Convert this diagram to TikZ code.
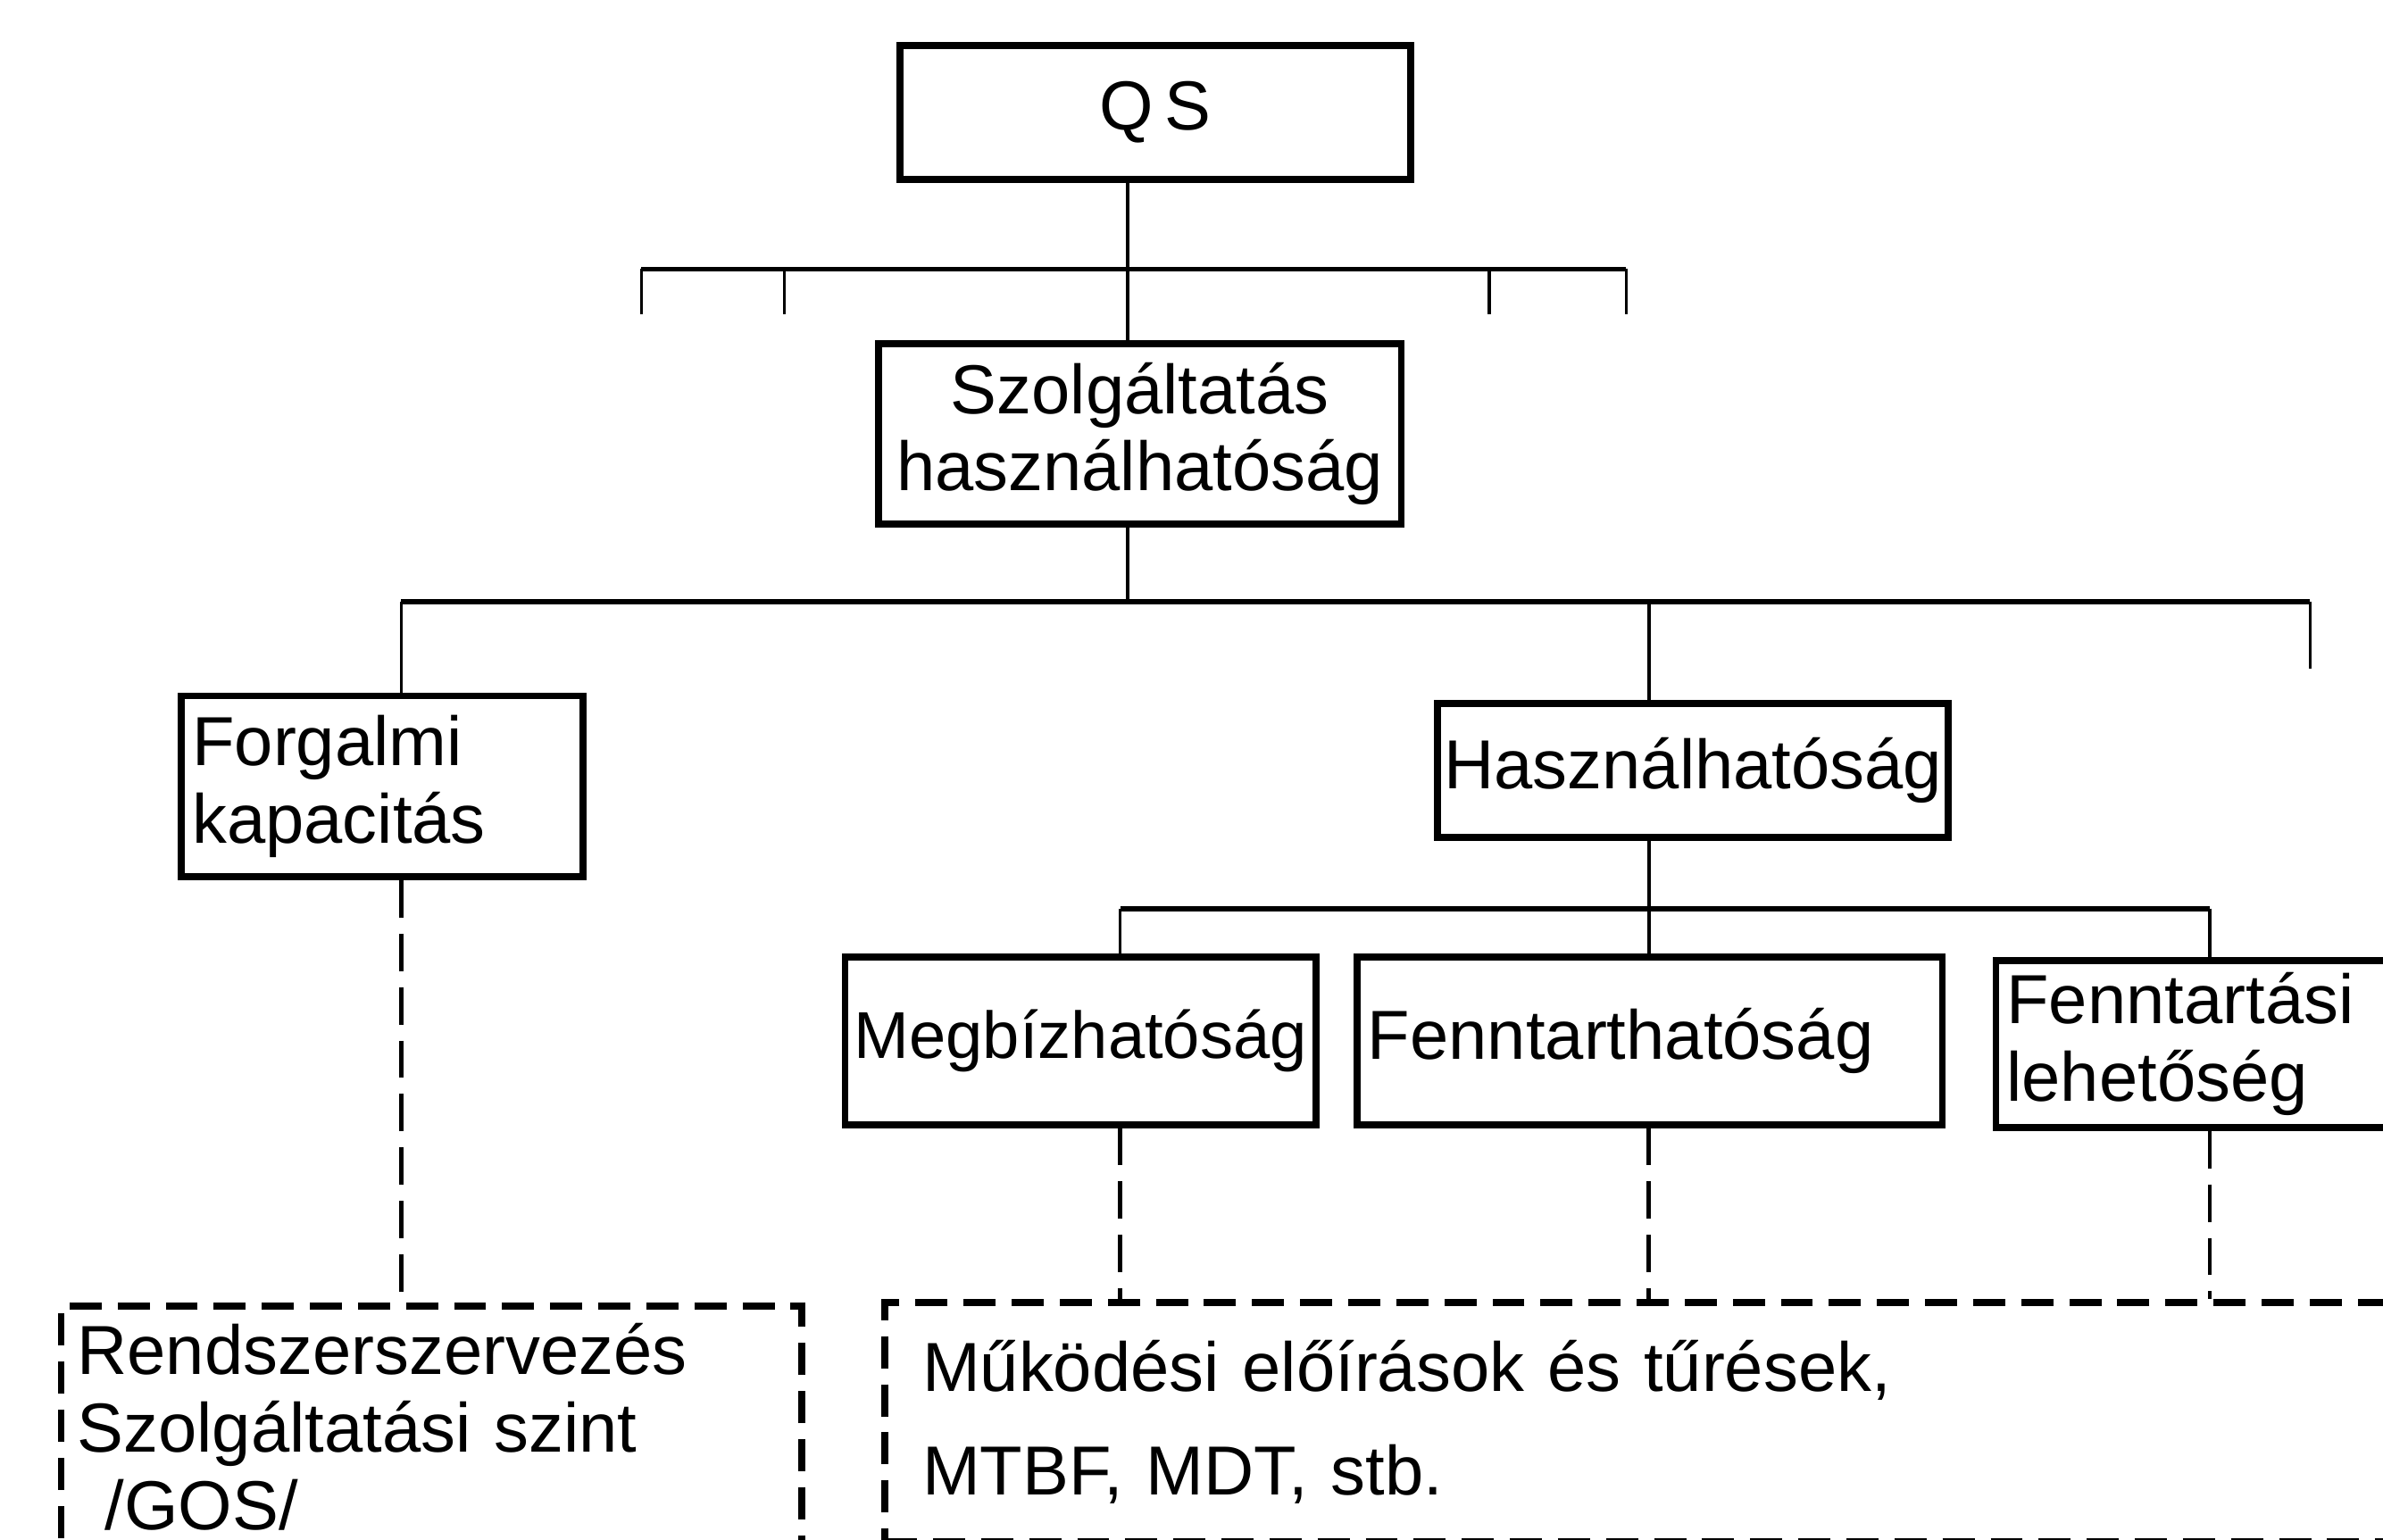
\documentclass[tikz,border=0pt]{standalone}
\usepackage{fontspec}
\setmainfont{Liberation Sans}
\usetikzlibrary{positioning}
\tikzset{
    mybox/.style = {rectangle, draw=black, line width=1.3pt, align=center, inner xsep=1pt, inner ysep=2pt, font=\fontsize{13}{14.5}\selectfont},
    myboxl/.style = {mybox, align=left, inner xsep=2pt},
    mydash/.style = {rectangle, draw=black, line width=1.3pt, dash pattern=on 6pt off 3pt, align=left, inner xsep=3pt, font=\fontsize{13}{14.5}\selectfont},
    edgen/.style = {line width=0.6pt},
    edgeb/.style = {line width=0.9pt}, % bus
    edged/.style = {line width=0.8pt, dash pattern=on 7pt off 3pt}, % dashed link
    edges/.style = {line width=0.6pt, dash pattern=on 9pt off 2pt} % stub
}

\begin{document}
\begin{tikzpicture}
\useasboundingbox (0,0) rectangle (15.68,-10.13);
\clip (0,0) rectangle (15.68,-10.13);
%
\node[mybox, minimum width=3.36cm, minimum height=0.88cm] at (7.60, -0.74) (qs) {Q\,S};
\node[mybox, minimum width=3.44cm, minimum height=1.19cm] at (7.50, -2.855) (szolg) {Szolgáltatás\\használhatóság};
\node[myboxl, text width=2.5cm, minimum height=1.19cm] at (2.515, -5.175) (forg) {Forgalmi\\kapacitás};
\node[mybox, minimum width=3.36cm, minimum height=0.88cm] at (11.14, -5.07) (haszn) {Használhatóság};
\node[mybox, font=\fontsize{12.4}{14}\selectfont, minimum width=3.10cm, minimum height=1.10cm] at (7.11, -6.85) (megb) {Megbízhatóság};
\node[myboxl, text width=3.71cm, minimum height=1.10cm] at (10.855, -6.85) (fennt) {Fenntarthatóság};
\node[myboxl, text width=3.4cm, minimum height=1.10cm, anchor=west] at (13.11, -6.87) (fennl) {Fenntartási\\lehetőség};
%
\node[mydash, text width=4.66cm, minimum height=1.55cm, anchor=north west] at (0.38, -8.57) (rendsz) {Rendszerszervezés\\Szolgáltatási szint\\\hspace*{0.4em}/GOS/};
\node[mydash, inner xsep=7pt, text width=10cm, minimum height=1.57cm, anchor=north west] at (5.80, -8.55) (mukod) {Működési előírások és tűrések,\\[5pt]MTBF, MDT, stb.};
%
% bus 1
\coordinate (t1) at (7.42, -1.77);
\coordinate (t1l) at (4.22, -1.77);
\coordinate (t1r) at (10.70, -1.77);
\draw[edgen] (t1 |- qs.south) -- (t1 |- szolg.north);
\draw[edgeb] (t1l) -- (t1r);
\foreach \x/\n in {4.22/a, 5.16/b, 9.80/c, 10.70/d} {
    \coordinate (s\n) at (\x, -2.07);
    \draw[edges] (s\n |- t1) -- (s\n);
}
% bus 2
\coordinate (t2) at (7.42, -3.96);
\coordinate (t2l) at (2.64, -3.96);
\coordinate (t2h) at (10.85, -3.96);
\coordinate (t2r) at (15.20, -3.96);
\coordinate (t2s) at (15.20, -4.40);
\draw[edgen] (t2 |- szolg.south) -- (t2);
\draw[edgeb] (t2l) -- (t2r);
\draw[edgen] (t2l) -- (t2l |- forg.north);
\draw[edgen] (t2h) -- (t2h |- haszn.north);
\draw[edgen] (t2r) -- (t2s);
% bus 3
\coordinate (t3l) at (7.37, -5.98);
\coordinate (t3m) at (10.85, -5.98);
\coordinate (t3r) at (14.54, -5.98);
\draw[edgen] (t3m |- haszn.south) -- (t3m);
\draw[edgeb] (t3l) -- (t3r);
\foreach \c/\n in {t3l/megb, t3m/fennt, t3r/fennl}
    \draw[edgen] (\c) -- (\c |- \n.north);
% dashed links
\draw[edged] (t2l |- forg.south) -- (t2l |- rendsz.north);
\foreach \c/\n in {t3l/megb, t3m/fennt, t3r/fennl}
    \draw[edged] (\c |- \n.south) -- (\c |- mukod.north);

\end{tikzpicture}
\end{document}
